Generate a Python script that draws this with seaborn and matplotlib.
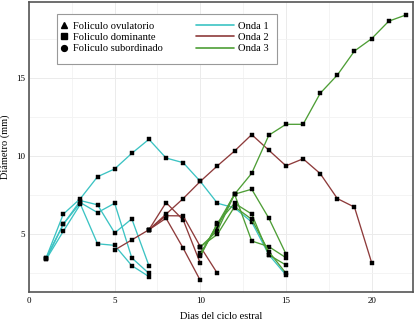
import numpy as np
import pandas as pd
import matplotlib
matplotlib.use("Agg")
import matplotlib.pyplot as plt
from matplotlib.lines import Line2D
from matplotlib.patches import Rectangle
import seaborn as sns

# Onda 1
o1_dom_dias = list(range(1, 16))
o1_dom = [3.5, 6.3, 7.3, 8.7, 9.2, 10.2, 11.1, 9.9, 9.6, 8.4, 7.0, 6.7, 5.8, 3.7, 2.4]
o1_sub_dias = list(range(1, 8))
o1_sub_a = [3.5, 5.65, 7.17, 6.9, 5.1, 6.0, 3.0]
o1_sub_b = [3.4, 5.65, 7.04, 6.4, 7.0, 3.5, 2.5]
o1_sub_c = [3.4, 5.2, 6.94, 4.4, 4.3, 3.0, 2.3]

# Onda 2
o2_dom_dias = list(range(5, 21))
o2_dom = [4.0, 4.65, 5.3, 6.3, 7.3, 8.4, 9.4, 10.35, 11.4, 10.4, 9.4, 9.85, 8.9, 7.3, 6.75, 3.2]
o2_sub_a_dias = [7, 8, 9, 10]
o2_sub_a = [5.3, 7.04, 5.93, 3.15]
o2_sub_b_dias = [7, 8, 9, 10, 11]
o2_sub_b = [5.3, 6.2, 6.19, 4.22, 2.5]
o2_sub_c_dias = [7, 8, 9, 10]
o2_sub_c = [5.3, 6.04, 4.12, 2.05]

# Onda 3
o3_dom_dias = list(range(10, 23))
o3_dom = [3.7, 5.67, 7.58, 8.92, 11.36, 12.06, 12.06, 14.05, 15.22, 16.76, 17.55, 18.67, 19.07]
o3_sub_dias = list(range(10, 16))
o3_sub_a = [3.8, 5.5, 7.58, 7.9, 6.04, 3.75]
o3_sub_b = [4.2, 5.24, 7.58, 4.58, 4.22, 3.51]
o3_sub_c = [3.6, 5.72, 7.0, 6.31, 3.69, 3.04]
o3_sub_d = [4.2, 5.01, 6.78, 5.97, 3.9, 2.51]

series = [
    ("Onda 1", "o1_dom", o1_dom_dias, o1_dom),
    ("Onda 1", "o1_a", o1_sub_dias, o1_sub_a),
    ("Onda 1", "o1_b", o1_sub_dias, o1_sub_b),
    ("Onda 1", "o1_c", o1_sub_dias, o1_sub_c),
    ("Onda 2", "o2_dom", o2_dom_dias, o2_dom),
    ("Onda 2", "o2_a", o2_sub_a_dias, o2_sub_a),
    ("Onda 2", "o2_b", o2_sub_b_dias, o2_sub_b),
    ("Onda 2", "o2_c", o2_sub_c_dias, o2_sub_c),
    ("Onda 3", "o3_dom", o3_dom_dias, o3_dom),
    ("Onda 3", "o3_a", o3_sub_dias, o3_sub_a),
    ("Onda 3", "o3_b", o3_sub_dias, o3_sub_b),
    ("Onda 3", "o3_c", o3_sub_dias, o3_sub_c),
    ("Onda 3", "o3_d", o3_sub_dias, o3_sub_d),
]
rows = []
for onda, linea, dias, vals in series:
    for d, v in zip(dias, vals):
        rows.append({"onda": onda, "linea": linea, "dia": d, "diam": v})
df = pd.DataFrame(rows)

colores = {"Onda 1": "#3cc3c3", "Onda 2": "#8e3b3b", "Onda 3": "#4e9e36"}

sns.set_style("white")
plt.rcParams["font.family"] = ["Liberation Serif", "DejaVu Serif"]
plt.rcParams["text.color"] = "black"
plt.rcParams["axes.labelcolor"] = "black"
plt.rcParams["xtick.color"] = "black"
plt.rcParams["ytick.color"] = "black"

fig = plt.figure(figsize=(4.15, 3.25), dpi=100)
ax = fig.add_axes([0.0699, 0.1025, 0.9246, 0.8913])

sns.lineplot(data=df, x="dia", y="diam", hue="onda", units="linea",
             estimator=None, sort=False, palette=colores, ax=ax,
             linewidth=0.95, marker="s", markersize=2.3,
             markerfacecolor="black", markeredgecolor="black",
             markeredgewidth=0.3, legend=False)

ax.set_xlim(0, 22.4)
ax.set_ylim(1.33, 19.9)
ax.set_xticks([0, 5, 10, 15, 20])
ax.set_yticks([5, 10, 15])
ax.set_xticks(np.arange(2.5, 22.5, 5), minor=True)
ax.set_yticks(np.arange(2.5, 20, 5), minor=True)
ax.grid(True, which="major", color="#ebebeb", linewidth=0.7)
ax.grid(True, which="minor", color="#f3f3f3", linewidth=0.6)
ax.set_axisbelow(True)
ax.tick_params(axis="both", which="both", length=0, labelsize=6.5, pad=4)
ax.tick_params(axis="y", pad=3)
for s in ax.spines.values():
    s.set_color("#555555")
    s.set_linewidth(1.2)

ax.set_xlabel("Dias del ciclo estral", fontsize=7.5, labelpad=5)
ax.set_ylabel("Diámetro (mm)", fontsize=7.5, labelpad=4)

# legend frame
ax.add_patch(Rectangle((0.073, 0.786), 0.573, 0.1726, transform=ax.transAxes,
                       facecolor="white", edgecolor="#999999", linewidth=0.8,
                       zorder=4.5))

formas = [Line2D([], [], color="black", marker=m, linestyle="", markersize=4.2)
          for m in ["^", "s", "o"]]
leg1 = ax.legend(formas, ["Foliculo ovulatorio", "Foliculo dominante",
                          "Foliculo subordinado"],
                 loc="upper left", bbox_to_anchor=(0.08, 0.933), frameon=False,
                 fontsize=7.6, handlelength=0.8, handletextpad=0.5,
                 labelspacing=0.18, borderpad=0, borderaxespad=0)
ax.add_artist(leg1)

lineas = [Line2D([], [], color=colores[k], linewidth=1.2) for k in colores]
ax.legend(lineas, list(colores.keys()), loc="upper left",
          bbox_to_anchor=(0.435, 0.933), frameon=False, fontsize=7.6,
          handlelength=3.6, handletextpad=0.4, labelspacing=0.18,
          borderpad=0, borderaxespad=0)

fig.savefig("out.png", dpi=100)
